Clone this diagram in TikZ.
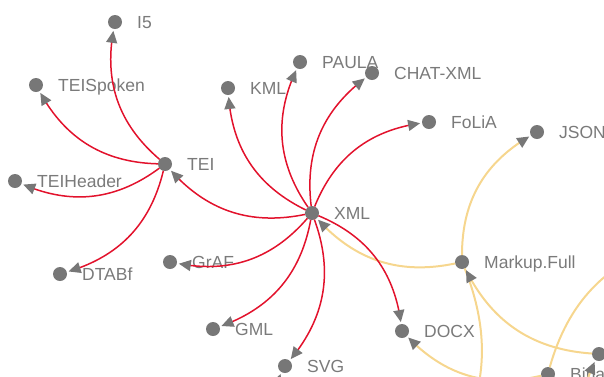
\documentclass[tikz,border=0pt]{standalone}
\usepackage{fontspec}
\setmainfont{Liberation Sans}
\usepackage{xcolor}
\usetikzlibrary{arrows.meta,positioning,bending}

\definecolor{dotgray}{RGB}{119,119,119}
\definecolor{txtgray}{RGB}{122,122,122}
\definecolor{linkred}{RGB}{226,18,44}
\definecolor{linkyellow}{RGB}{246,214,142}

\begin{document}
\begin{tikzpicture}
	[x=1pt,y=1pt,
	dot/.style={circle,fill=dotgray,minimum size=14pt,inner sep=0pt,outer sep=0pt},
	lbl/.style={right=15pt of #1,inner sep=0pt,text=txtgray,font=\fontsize{17.5}{20}\selectfont,text height=12.5pt,text depth=0pt},
	link/.style={-{Triangle[length=12pt,width=11pt,color=dotgray]},bend left=30,shorten >=2pt},
	redge/.style={link,draw=linkred,line width=1.5pt},
	yedge/.style={link,draw=linkyellow,line width=2pt}]

	\useasboundingbox (0,0) rectangle (604,-376);
	\clip (0,0) rectangle (604,-376);

	% hubs
	\node[dot] (xml) at (312,-213) {};
	\node[dot] (tei) at (165,-164) {};
	\node[dot] (markup) at (462,-262) {};

	% leaves
	\node[dot] (i5) at (115,-22) {};
	\node[dot] (teispoken) at (36,-85) {};
	\node[dot] (teiheader) at (15,-181) {};
	\node[dot] (dtabf) at (60,-274) {};
	\node[dot] (graf) at (170,-262) {};
	\node[dot] (gml) at (213,-329) {};
	\node[dot] (svg) at (285,-366) {};
	\node[dot] (kml) at (228,-88) {};
	\node[dot] (paula) at (300,-62) {};
	\node[dot] (chatxml) at (372,-73) {};
	\node[dot] (folia) at (429,-122) {};
	\node[dot] (json) at (537,-132) {};
	\node[dot] (docx) at (402,-331) {};
	\node[dot] (binary) at (548,-374) {};
	\node[dot] (outer) at (599,-354) {};

	% ends outside the picture
	\coordinate (lowmid) at (435,-475);
	\coordinate (farright) at (680,-240);
	\coordinate (belowouter) at (600,-454);
	\coordinate (belowsvg) at (286,-450);

	\node[lbl=xml] (xmltxt) {XML};
	\node[lbl=tei] (teitxt) {TEI};
	\node[lbl=markup] (markuptxt) {Markup.Full};
	\node[lbl=i5] (i5txt) {I5};
	\node[lbl=teispoken] (teispokentxt) {TEISpoken};
	\node[lbl=teiheader] (teiheadertxt) {TEIHeader};
	\node[lbl=dtabf] (dtabftxt) {DTABf};
	\node[lbl=graf] (graftxt) {GrAF};
	\node[lbl=gml] (gmltxt) {GML};
	\node[lbl=svg] (svgtxt) {SVG};
	\node[lbl=kml] (kmltxt) {KML};
	\node[lbl=paula] (paulatxt) {PAULA};
	\node[lbl=chatxml] (chatxmltxt) {CHAT-XML};
	\node[lbl=folia] (foliatxt) {FoLiA};
	\node[lbl=json] (jsontxt) {JSON};
	\node[lbl=docx] (docxtxt) {DOCX};
	\node[lbl=binary] (binarytxt) {Binary};

	\path (markup) edge[yedge] (xml);
	\path (markup) edge[yedge] (json);
	\path (markup) edge[yedge] (lowmid);
	\path (outer) edge[yedge] (markup);
	\path (binary) edge[yedge] (docx);
	\path (binary) edge[yedge] (farright);
	\path (belowouter) edge[yedge] (outer);
	\path (belowsvg) edge[yedge] (svg);

	\path (xml) edge[redge] (tei);
	\path (xml) edge[redge] (kml);
	\path (xml) edge[redge] (paula);
	\path (xml) edge[redge] (chatxml);
	\path (xml) edge[redge] (folia);
	\path (xml) edge[redge] (docx);
	\path (xml) edge[redge] (svg);
	\path (xml) edge[redge] (gml);
	\path (xml) edge[redge] (graf);

	\path (tei) edge[redge] (i5);
	\path (tei) edge[redge] (teispoken);
	\path (tei) edge[redge] (teiheader);
	\path (tei) edge[redge] (dtabf);

\end{tikzpicture}
\end{document}
